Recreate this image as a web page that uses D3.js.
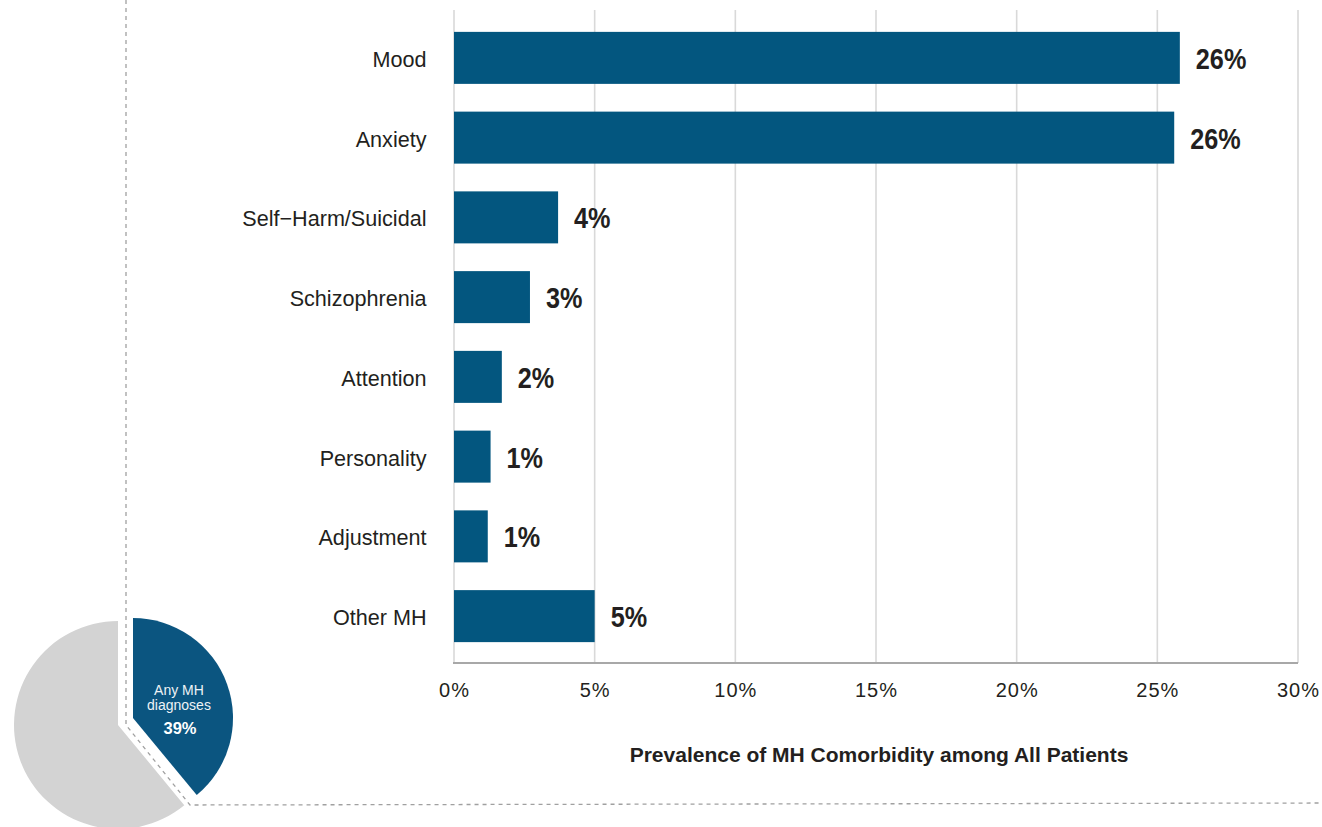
<!DOCTYPE html>
<html>
<head>
<meta charset="utf-8">
<script src="https://cdn.jsdelivr.net/npm/d3@7"></script>
<style>
  html, body { margin: 0; padding: 0; background: #fff; }
  svg { display: block; }
</style>
</head>
<body>
<svg id="chart" width="1322" height="827"></svg>
<script>
// ---- Data ----
const categories = ["Mood", "Anxiety", "Self\u2212Harm/Suicidal", "Schizophrenia", "Attention", "Personality", "Adjustment", "Other MH"];
const prevalence = [25.8, 25.6, 3.7, 2.7, 1.7, 1.3, 1.2, 5.0];
const xTicks = [0, 5, 10, 15, 20, 25, 30];
const axisTitle = "Prevalence of MH Comorbidity among All Patients";
const pieLabels = ["Any MH diagnoses", "No MH diagnoses"];
const pieValues = [39, 61];

// ---- Styles ----
const BLUE = "#03567f";
const PIE_BLUE = "#0b5580";
const GREY = "#d3d3d3";
const TEXT = "#231f20";
const FONT = "Liberation Sans, Arial, Helvetica, sans-serif";

const svg = d3.select("#chart");

// ---- Scales ----
const x = d3.scaleLinear().domain([0, 30]).range([454, 1298]);
const y = d3.scaleBand().domain(categories).range([18, 656])
  .paddingInner(0.348).paddingOuter(0.174);

const gridTop = 10, axisY = 663;

// gridlines
svg.append("g").selectAll("line").data(xTicks).join("line")
  .attr("x1", d => x(d)).attr("x2", d => x(d))
  .attr("y1", gridTop).attr("y2", axisY)
  .attr("stroke", "#d9d9d9").attr("stroke-width", 1.6);

// bars
svg.append("g").selectAll("rect").data(categories).join("rect")
  .attr("x", x(0))
  .attr("y", d => y(d))
  .attr("width", (d, i) => x(prevalence[i]) - x(0))
  .attr("height", y.bandwidth())
  .attr("fill", BLUE);

// bottom axis line
svg.append("line")
  .attr("x1", x(0) - 1).attr("x2", x(30))
  .attr("y1", axisY).attr("y2", axisY)
  .attr("stroke", "#a8a8a8").attr("stroke-width", 2);

// tick labels
svg.append("g").selectAll("text").data(xTicks).join("text")
  .attr("x", d => x(d) + 0.5)
  .attr("y", 697)
  .attr("text-anchor", "middle")
  .attr("font-family", FONT)
  .attr("font-size", 20)
  .attr("letter-spacing", 1)
  .attr("fill", TEXT)
  .text(d => d + "%");

// axis title
svg.append("text")
  .attr("x", 879).attr("y", 762)
  .attr("text-anchor", "middle")
  .attr("font-family", FONT)
  .attr("font-weight", "bold")
  .attr("font-size", 21)
  .attr("fill", TEXT)
  .text(axisTitle);

// category labels
svg.append("g").selectAll("text").data(categories).join("text")
  .attr("x", 426.5)
  .attr("y", d => y(d) + y.bandwidth() / 2 + 9)
  .attr("text-anchor", "end")
  .attr("font-family", FONT)
  .attr("font-size", 21.6)
  .attr("fill", TEXT)
  .text(d => d);

// value labels (condensed bold)
const fmt = d3.format(".0%");
svg.append("g").selectAll("text").data(categories).join("text")
  .attr("transform", (d, i) => `translate(${x(prevalence[i]) + 16},${y(d) + y.bandwidth() / 2 + 11}) scale(0.87,1)`)
  .attr("font-family", FONT)
  .attr("font-weight", "bold")
  .attr("font-size", 29)
  .attr("fill", TEXT)
  .text((d, i) => fmt(prevalence[i] / 100));

// ---- Pie ----
const pie = d3.pie().sort(null).value(d => d)(pieValues);
const arcBlue = d3.arc().innerRadius(0).outerRadius(100);
const arcGrey = d3.arc().innerRadius(0).outerRadius(104);

svg.append("path")
  .attr("transform", "translate(118,725)")
  .attr("d", arcGrey(pie[1]))
  .attr("fill", GREY);

svg.append("path")
  .attr("transform", "translate(133,718)")
  .attr("d", arcBlue(pie[0]))
  .attr("fill", PIE_BLUE);

// dashed connector
svg.append("path")
  .attr("d", "M126,0 L126,725 L190,805 L1322,803")
  .attr("fill", "none")
  .attr("stroke", "#a0a0a0")
  .attr("stroke-width", 1.3)
  .attr("stroke-dasharray", "4,4");

// pie label
const pl = svg.append("g").attr("font-family", FONT)
  .attr("text-anchor", "middle").attr("fill", "#eef2f5");
pl.append("text").attr("x", 179).attr("y", 695).attr("font-size", 14).text("Any MH");
pl.append("text").attr("x", 179).attr("y", 710).attr("font-size", 14).text("diagnoses");
pl.append("text").attr("x", 180).attr("y", 734).attr("font-size", 16.5)
  .attr("font-weight", "bold").attr("fill", "#fff")
  .text(d3.format(".0%")(pieValues[0] / 100));
</script>
</body>
</html>
